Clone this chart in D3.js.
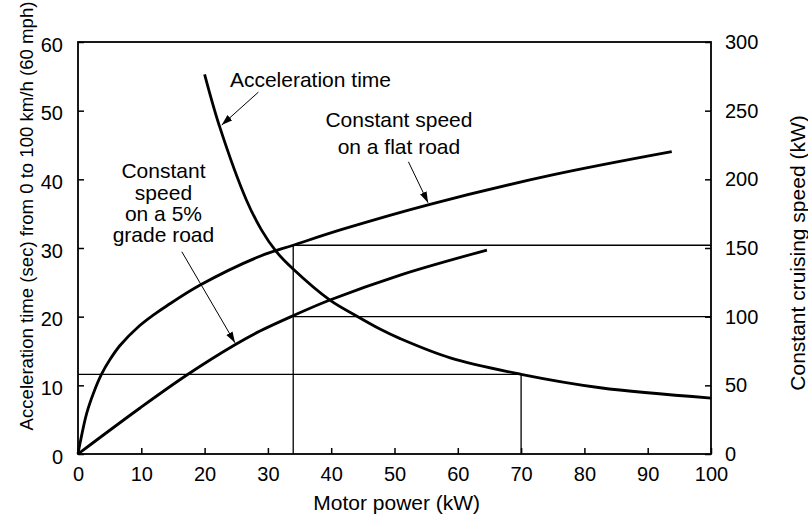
<!DOCTYPE html>
<html><head><meta charset="utf-8">
<script src="https://cdn.jsdelivr.net/npm/d3@7/dist/d3.min.js"></script>
<style>
body{margin:0;background:#fff}
text{font-family:"Liberation Sans",Arial,Helvetica,sans-serif;fill:#000}
</style>
</head><body>
<svg id="chart" width="808" height="519"></svg>
<script>
// ---- data ----
const xTicks = [0,10,20,30,40,50,60,70,80,90,100];
const leftTicks = [0,10,20,30,40,50,60];
const rightTicks = [0,50,100,150,200,250,300];

// acceleration time (sec) vs motor power (kW)
const accelPower = [20, 22.4, 26.6, 29.0, 31.3, 33.9, 39.8, 44.0, 47.7, 50.9, 58.8, 70, 82.5, 100];
const accelTime  = [55.3, 47.6, 37.0, 32.6, 29.5, 27.0, 22.4, 20.1, 18.2, 16.8, 14.0, 11.6, 9.65, 8.15];

// constant speed on a flat road (right axis, kW)
const flatPower = [0, 0.32, 1.37, 2.5, 3.74, 5, 6.63, 9.5, 12, 14, 19.3, 28.75, 34, 41.7, 55.6, 74.6, 93.8];
const flatSpeed = [0, 7.8, 29.6, 45, 58.3, 68.4, 79, 92.5, 101.5, 107.8, 123, 144, 152, 163.5, 181.8, 202.8, 220.1];

// constant speed on a 5% grade road (right axis, kW)
const gradePower = [0, 9.8, 17.2, 24.8, 28.75, 33.9, 39.8, 50.9, 64.6];
const gradeSpeed = [0, 33.5, 57.5, 79.5, 89.5, 100.5, 112.1, 130.3, 148.5];

// reference readings
const refPower = 34, refFlatSpeed = 152, refGradeSpeed = 100;
const refAccelPower = 70, refAccelTime = 11.6;

const xLabel = "Motor power (kW)";
const yLeftLabel = "Acceleration time (sec) from 0 to 100 km/h (60 mph)";
const yRightLabel = "Constant cruising speed (kW)";

// ---- layout ----
const svg = d3.select("#chart");
const L = 78, R = 711, T = 42, B = 454;
const x = d3.scaleLinear().domain([0,100]).range([L,R]);
const yL = d3.scaleLinear().domain([0,60]).range([B,T]);
const yR = d3.scaleLinear().domain([0,300]).range([B,T]);

// frame
svg.append("rect").attr("x",L).attr("y",T).attr("width",R-L).attr("height",B-T)
  .attr("fill","none").attr("stroke","#000").attr("stroke-width",1.8);

// axes
const gx = svg.append("g").attr("transform",`translate(0,${B})`)
  .call(d3.axisBottom(x).tickValues(xTicks).tickSize(-6).tickPadding(13).tickFormat(d3.format("d")));
const gl = svg.append("g").attr("transform",`translate(${L},0)`)
  .call(d3.axisLeft(yL).tickValues(leftTicks).tickSize(-6).tickPadding(15).tickFormat(d3.format("d")));
const gr = svg.append("g").attr("transform",`translate(${R},0)`)
  .call(d3.axisRight(yR).tickValues(rightTicks).tickSize(-6).tickPadding(14).tickFormat(d3.format("d")));
[gx,gl,gr].forEach(g=>{
  g.select(".domain").remove();
  g.selectAll(".tick line").attr("stroke","#000").attr("stroke-width",1.5);
  g.selectAll(".tick text").attr("font-size",20).attr("font-family","Liberation Sans, Arial, sans-serif").attr("fill","#000");
});
gl.selectAll(".tick text").attr("dy","0.45em");

// reference lines
const refG = svg.append("g").attr("stroke","#000").attr("stroke-width",1.3).attr("fill","none");
refG.append("line").attr("x1",x(refPower)).attr("x2",x(refPower)).attr("y1",yR(0)).attr("y2",yR(refFlatSpeed));
refG.append("line").attr("x1",x(refPower)).attr("x2",x(100)).attr("y1",yR(refFlatSpeed)).attr("y2",yR(refFlatSpeed));
refG.append("line").attr("x1",x(refPower)).attr("x2",x(100)).attr("y1",yR(refGradeSpeed)).attr("y2",yR(refGradeSpeed));
refG.append("line").attr("x1",x(0)).attr("x2",x(refAccelPower)).attr("y1",yL(refAccelTime)).attr("y2",yL(refAccelTime));
refG.append("line").attr("x1",x(refAccelPower)).attr("x2",x(refAccelPower)).attr("y1",yL(0)).attr("y2",yL(refAccelTime));

// curves
function drawCurve(xs, ys, yScale){
  const pts = xs.map((v,i)=>[v, ys[i]]);
  svg.append("path").datum(pts)
    .attr("d", d3.line().x(d=>x(d[0])).y(d=>yScale(d[1])).curve(d3.curveCatmullRom.alpha(0.5)))
    .attr("fill","none").attr("stroke","#000").attr("stroke-width",2.8).attr("stroke-linecap","butt");
}
drawCurve(accelPower, accelTime, yL);
drawCurve(flatPower, flatSpeed, yR);
drawCurve(gradePower, gradeSpeed, yR);

// arrow marker
svg.append("defs").append("marker").attr("id","ah")
  .attr("viewBox","0 -4 11 8").attr("refX",11).attr("refY",0)
  .attr("markerWidth",11).attr("markerHeight",8).attr("markerUnits","userSpaceOnUse")
  .attr("orient","auto")
  .append("path").attr("d","M0,-3.6L11,0L0,3.6Z").attr("fill","#000");

function arrow(x1,y1,x2,y2){
  svg.append("line").attr("x1",x1).attr("y1",y1).attr("x2",x2).attr("y2",y2)
    .attr("stroke","#000").attr("stroke-width",1).attr("marker-end","url(#ah)");
}
function label(lines, cx, y0, lh, anchor){
  const t = svg.append("text").attr("font-size",21).attr("text-anchor",anchor||"middle");
  lines.forEach((s,i)=>t.append("tspan").attr("x",cx).attr("y",y0+i*lh).text(s));
}

// annotations
label(["Acceleration time"], x(24.0), yL(53.5), 0, "start");
arrow(x(28.5), yL(52.7), x(22.7), yL(47.9));

label(["Constant speed","on a flat road"], x(50.7), yR(238.3), 27.6);
arrow(x(52.2), yR(212.8), x(55.3), yR(183));

label(["Constant","speed","on a 5%","grade road"], x(13.5), yR(200.8), 21.4);
arrow(x(16.4), yR(147.3), x(24.8), yR(81));

// axis titles
svg.append("text").attr("x",396.7).attr("y",510).attr("text-anchor","middle")
  .attr("font-size",21).text(xLabel);
svg.append("text").attr("transform","translate(33,216) rotate(-90)").attr("text-anchor","middle")
  .attr("font-size",18.6).text(yLeftLabel);
svg.append("text").attr("transform","translate(805,253) rotate(-90)").attr("text-anchor","middle")
  .attr("font-size",21).text(yRightLabel);
</script>
</body></html>
